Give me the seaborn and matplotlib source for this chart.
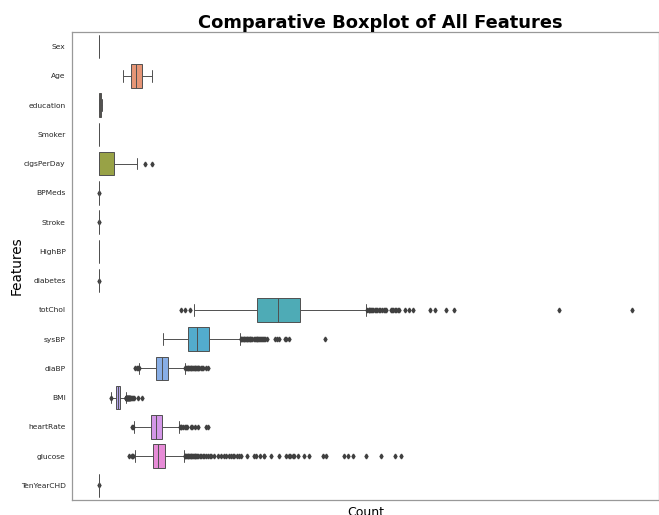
import numpy as np
import pandas as pd
import matplotlib
matplotlib.use("Agg")
import matplotlib.pyplot as plt
import seaborn as sns

# Feature names in plotting order
FEATURES = ["Sex", "Age", "education", "Smoker", "cigsPerDay", "BPMeds", "Stroke",
            "HighBP", "diabetes", "totChol", "sysBP", "diaBP", "BMI", "heartRate",
            "glucose", "TenYearCHD"]

# Five-number summaries per feature
WHISK_LO = [0, 32, 1, 0, 0, 0, 0, 0, 0, 124, 83.5, 53, 15.7, 46, 47, 0]
Q1       = [0, 42, 1, 0, 0, 0, 0, 0, 0, 206, 117, 75, 23.07, 68, 71, 0]
MEDIAN   = [0, 49, 2, 0, 0, 0, 0, 0, 0, 234, 128, 82, 25.4, 75, 78, 0]
Q3       = [1, 56, 3, 1, 20, 0, 0, 1, 0, 263, 144, 90, 28.04, 83, 87, 0]
WHISK_HI = [1, 70, 4, 1, 50, 0, 0, 1, 0, 348, 184, 112.5, 35.4, 105, 111, 0]

# Outlying observations per feature
OUT_cigsPerDay = [60, 70]
OUT_BPMeds = [1]
OUT_Stroke = [1]
OUT_diabetes = [1]
OUT_TenYearCHD = [1]
OUT_totChol = [107, 113, 119, 350, 352, 353, 354, 355, 357, 358, 360, 362, 363, 366,
               367, 370, 372, 373, 375, 381, 382, 384, 386, 388, 390, 392, 400, 405,
               410, 432, 439, 453, 464, 600, 696]
OUT_sysBP = [185, 186, 187, 188, 189, 190, 191, 192, 193, 194, 195, 196, 197, 198, 199,
             200, 202, 204, 205, 206, 207, 208, 209, 210, 212, 213, 214, 215, 217, 220,
             230, 232, 235, 243, 244, 248, 295]
OUT_diaBP = [48, 50, 51, 52, 113, 114, 115, 116, 117, 118, 119, 120, 121, 122, 123, 124,
             125, 126, 127, 128, 129, 130, 131, 133, 135, 136, 140, 142.5]
OUT_BMI = [15.54, 35.5, 35.6, 35.8, 36, 36.2, 36.5, 36.8, 37, 37.3, 37.6, 38, 38.3, 38.6,
           39, 39.2, 39.7, 40, 40.5, 40.8, 41.3, 42, 43.3, 44.3, 45.8, 51.3, 56.8]
OUT_heartRate = [44, 45, 106, 107, 108, 110, 112, 114, 115, 120, 122, 125, 130, 140, 143]
OUT_glucose = [40, 43, 44, 45, 112, 113, 114, 115, 116, 117, 118, 119, 120, 121, 122, 123,
               124, 125, 126, 127, 128, 130, 132, 134, 136, 137, 140, 142, 145, 147, 150,
               155, 160, 163, 166, 170, 172, 175, 177, 180, 183, 186, 193, 202, 205, 210,
               215, 216, 225, 235, 244, 248, 250, 254, 255, 260, 268, 274, 292, 297, 320,
               325, 332, 348, 368, 386, 394]

OUTLIERS = {
    "cigsPerDay": OUT_cigsPerDay, "BPMeds": OUT_BPMeds, "Stroke": OUT_Stroke,
    "diabetes": OUT_diabetes, "TenYearCHD": OUT_TenYearCHD, "totChol": OUT_totChol,
    "sysBP": OUT_sysBP, "diaBP": OUT_diaBP, "BMI": OUT_BMI, "heartRate": OUT_heartRate,
    "glucose": OUT_glucose,
}

# Expand each summary into observations: quartile blocks plus whisker ends and outliers
BLOCK = 150
rows = []
for i, f in enumerate(FEATURES):
    vals = ([WHISK_LO[i]] + [Q1[i]] * BLOCK + [MEDIAN[i]] * BLOCK + [Q3[i]] * BLOCK
            + [WHISK_HI[i]] + OUTLIERS.get(f, []))
    rows += [(f, v) for v in vals]
df = pd.DataFrame(rows, columns=["Feature", "Value"])

sns.set_style("white")
plt.rcParams["font.family"] = ["DejaVu Sans"]

fig = plt.figure(figsize=(6.59, 5.15), dpi=100)
ax = fig.add_axes([72 / 659, 15 / 515, 587 / 659, 468 / 515])

palette = sns.husl_palette(len(FEATURES), l=0.7)
line_c = "#505050"
sns.boxplot(data=df, x="Value", y="Feature", hue="Feature", order=FEATURES,
            hue_order=FEATURES, palette=palette, saturation=0.75, legend=False,
            orient="h", width=0.8, linewidth=0.7, linecolor=line_c,
            flierprops=dict(marker="d", markersize=2.4, markerfacecolor="#404040",
                            markeredgecolor="#404040"), ax=ax)

ax.set_xticks([0, 100, 200, 300, 400, 500, 600, 700])
ax.set_xticklabels([])
ax.tick_params(axis="x", length=2.5, width=0.6, color="0.55")
ax.tick_params(axis="y", length=2.5, width=0.6, color="0.55", labelsize=5.4,
               labelcolor="0.15", pad=2)
for s in ax.spines.values():
    s.set_color("0.6")
    s.set_linewidth(0.9)

ax.set_xlabel("Count", fontsize=9, labelpad=-2, color="black")
ax.set_ylabel("Features", fontsize=9.8, labelpad=-2, color="black")

fig.text(380 / 659, 1 - 28 / 515, "Comparative Boxplot of All Features",
         ha="center", va="baseline", fontsize=12.9, fontweight="bold", color="black")

fig.savefig("out.png", dpi=100)
